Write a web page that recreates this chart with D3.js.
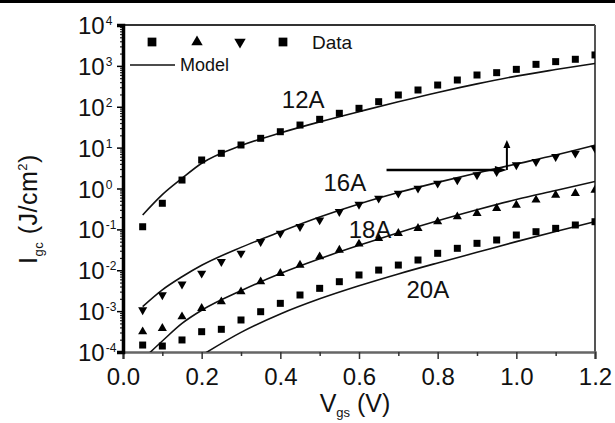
<!DOCTYPE html>
<html>
<head>
<meta charset="utf-8">
<script src="https://cdnjs.cloudflare.com/ajax/libs/d3/7.8.5/d3.min.js"></script>
<style>
  body { margin: 0; background: #fff; }
  svg { display: block; }
  text { font-family: "Liberation Sans", Arial, Helvetica, sans-serif; fill: #111; }
</style>
</head>
<body>
<div id="chart"></div>
<script>
// measured gate voltages (V)
var vgs = [0.05, 0.10, 0.15, 0.20, 0.25, 0.30, 0.35, 0.40, 0.45, 0.50, 0.55, 0.60,
           0.65, 0.70, 0.75, 0.80, 0.85, 0.90, 0.95, 1.00, 1.05, 1.10, 1.15, 1.20];

// data points, Igc (J/cm2)
var data12A = [0.116, 0.435, 1.61, 4.98, 7.26, 11.6, 16.9, 24.5, 35.7, 49.3, 69.2, 91.6,
               133, 194, 257, 340, 451, 598, 682, 822, 1090, 1270, 1450, 1850];
var data16A = [0.00107, 0.00248, 0.00457, 0.00841, 0.0162, 0.0259, 0.0500, 0.0800, 0.116, 0.169, 0.271, 0.407,
               0.575, 0.764, 1.01, 1.34, 1.61, 2.14, 2.58, 3.76, 4.53, 6.00, 7.26, 9.62];
var data18A = [0.000314, 0.000380, 0.000731, 0.00117, 0.00170, 0.00299, 0.00525, 0.00841, 0.0134, 0.0215, 0.0313, 0.0439,
               0.0605, 0.0802, 0.106, 0.154, 0.204, 0.247, 0.328, 0.394, 0.524, 0.693, 0.764, 0.918];
var data20A = [0.000148, 0.000140, 0.000197, 0.000314, 0.000359, 0.000607, 0.000968, 0.00155, 0.00248, 0.00361, 0.00525, 0.00766,
               0.0101, 0.0134, 0.0178, 0.0260, 0.0344, 0.0456, 0.0550, 0.0728, 0.0877, 0.106, 0.128, 0.154];

// model curves
var modelV   = [0.05, 0.10, 0.15, 0.20, 0.30, 0.40, 0.50, 0.60, 0.70, 0.80, 0.90, 1.00, 1.10, 1.20];
var model12A = [0.225, 0.708, 1.77, 4.14, 11.2, 22.9, 42.7, 75.9, 132, 224, 363, 562, 813, 1150];
var model16A = [0.00129, 0.00331, 0.00692, 0.0132, 0.0363, 0.0871, 0.200, 0.417, 0.794, 1.41, 2.40, 3.98, 6.61, 11.5];
var model18A = [0.000066, 0.000186, 0.000501, 0.00105, 0.00316, 0.00832, 0.0191, 0.0407, 0.0832, 0.162, 0.302, 0.537, 0.891, 1.48];
var model20A = [null, null, null, 0.000083, 0.000302, 0.000851, 0.00200, 0.00417, 0.00813, 0.0151, 0.0275, 0.0501, 0.0891, 0.155];

var curveNames = ['12A', '16A', '18A', '20A'];
var markerKinds = ['square', 'down', 'up', 'square'];
var labelV = [0.458, 0.564, 0.628, 0.775];
var labelI = [93, 0.869, 0.0615, 0.00209];

var xTicks = [0, 0.2, 0.4, 0.6, 0.8, 1.0, 1.2];
var xMinor = [0.1, 0.3, 0.5, 0.7, 0.9, 1.1];
var yExp = [-4, -3, -2, -1, 0, 1, 2, 3, 4];

// arrow annotation (V, Igc)
var arrowV = [0.67, 0.976, 0.976];
var arrowI = [2.84, 2.84, 15.4];

var W = 615, H = 423;
var svg = d3.select('#chart').append('svg').attr('width', W).attr('height', H);

svg.append('rect').attr('x', 0).attr('y', 0).attr('width', W).attr('height', 3).style('fill', '#000');

var x = d3.scaleLinear().domain([0, 1.2]).range([123, 595]);
var y = d3.scaleLog().domain([1e-4, 1e4]).range([352, 25]);

svg.append('clipPath').attr('id', 'plotclip')
   .append('rect').attr('x', 123).attr('y', 25).attr('width', 472).attr('height', 327);

// frame top/right
svg.append('line').attr('x1', 117).attr('x2', 595).attr('y1', 25).attr('y2', 25)
   .style('stroke', '#333').style('stroke-width', 2);
svg.append('line').attr('x1', 595).attr('x2', 595).attr('y1', 25).attr('y2', 352)
   .style('stroke', '#555').style('stroke-width', 2);

// x axis
var xAxis = svg.append('g').attr('transform', 'translate(0,352)')
   .call(d3.axisBottom(x).tickValues(xTicks).tickSize(7).tickFormat(d3.format('.1f')));
svg.append('g').attr('transform', 'translate(0,352)')
   .call(d3.axisBottom(x).tickValues(xMinor).tickSize(4).tickFormat(''))
   .select('.domain').remove();
xAxis.select('.domain').style('stroke', '#666').style('stroke-width', 2.5);
svg.selectAll('g.tick line').style('stroke', '#333').style('stroke-width', 1.5);
xAxis.selectAll('text').style('font-size', '24px').attr('dy', '1.05em').attr('y', 8);

// y axis
var minorY = y.ticks().filter(function(d) {
  return Math.abs(Math.log10(d) - Math.round(Math.log10(d))) > 1e-6;
});
svg.append('g').attr('transform', 'translate(123,0)')
   .call(d3.axisLeft(y).tickValues(minorY).tickSize(3).tickFormat(''))
   .call(function(g) { g.select('.domain').remove(); })
   .selectAll('line').style('stroke', '#222').style('stroke-width', 1.2);
var yAxis = svg.append('g').attr('transform', 'translate(123,0)')
   .call(d3.axisLeft(y).tickValues(yExp.map(function(e) { return Math.pow(10, e); }))
   .tickSize(6).tickFormat(''));
yAxis.select('.domain').style('stroke', '#000').style('stroke-width', 3.5);
yAxis.selectAll('line').style('stroke', '#000').style('stroke-width', 1.5);

yExp.forEach(function(e) {
  var t = svg.append('text').attr('x', 78).attr('y', y(Math.pow(10, e)) + 9)
             .style('font-size', '24px').text('10');
  t.append('tspan').attr('dy', -9).attr('dx', 1).style('font-size', '12px')
   .text(e < 0 ? '-' + (-e) : String(e));
});

// axis titles
var xt = svg.append('text').attr('x', 355).attr('y', 412).attr('text-anchor', 'middle')
            .style('font-size', '25px').text('V');
xt.append('tspan').attr('dy', 5).style('font-size', '13px').text('gs');
xt.append('tspan').attr('dy', -5).text(' (V)');

var yt = svg.append('text').attr('transform', 'translate(37,209) rotate(-90)')
            .attr('text-anchor', 'middle').style('font-size', '25px').style('letter-spacing', '0.5px').text('I');
yt.append('tspan').attr('dy', 6).style('font-size', '13px').text('gc');
yt.append('tspan').attr('dy', -6).text(' (J/cm');
yt.append('tspan').attr('dy', -10).style('font-size', '13px').text('2');
yt.append('tspan').attr('dy', 10).text(')');

// model curves
var plot = svg.append('g').attr('clip-path', 'url(#plotclip)');
var models = [model12A, model16A, model18A, model20A];
var line = d3.line()
  .defined(function(d) { return d[1] != null; })
  .x(function(d) { return x(d[0]); })
  .y(function(d) { return y(d[1]); })
  .curve(d3.curveMonotoneX);

models.forEach(function(m) {
  plot.append('path')
      .datum(modelV.map(function(v, i) { return [v, m[i]]; }))
      .attr('d', line)
      .style('fill', 'none').style('stroke', '#111').style('stroke-width', 1.6);
});

// data markers
var symSquare = d3.symbol().type(d3.symbolSquare).size(49);
var symTri = d3.symbol().type(d3.symbolTriangle).size(36);
function marker(g, kind, cx, cy, scale) {
  var s = scale || 1;
  var p = g.append('path').style('fill', '#000');
  if (kind === 'square') {
    p.attr('d', symSquare()).attr('transform', 'translate(' + cx + ',' + cy + ') scale(' + s + ')');
  } else if (kind === 'up') {
    p.attr('d', symTri()).attr('transform', 'translate(' + cx + ',' + cy + ') scale(' + s + ')');
  } else {
    p.attr('d', symTri()).attr('transform', 'translate(' + cx + ',' + cy + ') rotate(180) scale(' + s + ')');
  }
}

var datasets = [data12A, data16A, data18A, data20A];
datasets.forEach(function(ds, k) {
  ds.forEach(function(val, i) {
    marker(plot, markerKinds[k], x(vgs[i]), y(val));
  });
});

// curve labels
curveNames.forEach(function(name, i) {
  svg.append('text').attr('x', x(labelV[i])).attr('y', y(labelI[i]))
     .attr('text-anchor', 'middle').style('font-size', '24px').text(name);
});

// arrow
var ax1 = x(arrowV[0]), ax2 = x(arrowV[1]), ay1 = y(arrowI[0]), ay2 = y(arrowI[2]);
svg.append('line').attr('x1', ax1).attr('y1', ay1).attr('x2', ax2 - 8).attr('y2', ay1)
   .style('stroke', '#000').style('stroke-width', 2.6);
svg.append('path').attr('d', 'M' + (ax2 - 12) + ',' + (ay1 - 4) + 'L' + ax2 + ',' + ay1 + 'L' + (ax2 - 12) + ',' + (ay1 + 4) + 'Z')
   .style('fill', '#000');
svg.append('line').attr('x1', ax2).attr('y1', ay1).attr('x2', ax2).attr('y2', ay2 + 6)
   .style('stroke', '#000').style('stroke-width', 2);
svg.append('path').attr('d', 'M' + (ax2 - 3.5) + ',' + (ay2 + 8) + 'L' + ax2 + ',' + ay2 + 'L' + (ax2 + 3.5) + ',' + (ay2 + 8) + 'Z')
   .style('fill', '#000');

// legend
var leg = svg.append('g').attr('class', 'legend');
[['square', 152], ['up', 197], ['down', 240], ['square', 283]].forEach(function(m) {
  marker(leg, m[0], m[1], 42, 1.25);
});
leg.append('text').attr('x', 312).attr('y', 49).style('font-size', '19px').text('Data');
leg.append('line').attr('x1', 130).attr('x2', 175).attr('y1', 65).attr('y2', 65)
   .style('stroke', '#111').style('stroke-width', 1.6);
leg.append('text').attr('x', 180).attr('y', 71).style('font-size', '18px').text('Model');
</script>
</body>
</html>
